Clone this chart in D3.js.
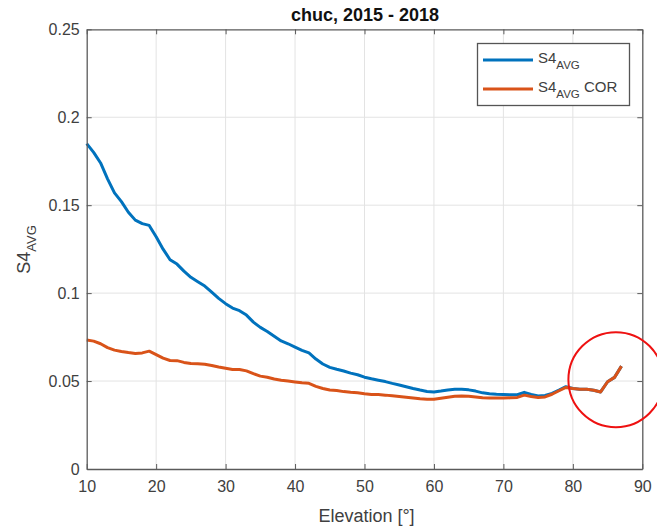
<!DOCTYPE html>
<html><head><meta charset="utf-8">
<script src="https://cdn.jsdelivr.net/npm/d3@7"></script>
<style>body{margin:0;background:#fff;} svg{display:block;font-family:"Liberation Sans",Arial,sans-serif;}</style>
</head><body>
<script>
const elevation = d3.range(10, 88);
const s4avg = [0.185,0.180,0.174,0.165,0.157,0.152,0.146,0.1415,0.1395,0.1385,
0.132,0.125,0.119,0.1165,0.1125,0.109,0.1065,0.104,0.1005,0.097,
0.094,0.0915,0.0900,0.0875,0.0835,0.0805,0.0782,0.0755,0.0728,0.0712,
0.0693,0.0675,0.0660,0.0625,0.0597,0.0578,0.0567,0.0557,0.0545,0.0536,
0.0522,0.0513,0.0505,0.0497,0.0487,0.0478,0.0468,0.0458,0.0449,0.0441,
0.0438,0.0443,0.0449,0.0453,0.0454,0.0450,0.0443,0.0433,0.0428,0.0425,
0.0424,0.0422,0.0422,0.0436,0.0424,0.0415,0.0418,0.0430,0.0448,0.0468,
0.0458,0.0454,0.0453,0.0448,0.0438,0.0496,0.0521,0.0585];
const s4avgCor = [0.0733,0.0727,0.0712,0.0690,0.0676,0.0668,0.0662,0.0657,0.0660,0.0670,
0.0650,0.0630,0.0617,0.0616,0.0606,0.0600,0.0598,0.0595,0.0588,0.0580,
0.0573,0.0566,0.0566,0.0558,0.0542,0.0528,0.0522,0.0512,0.0505,0.0500,
0.0495,0.0490,0.0487,0.0470,0.0458,0.0449,0.0446,0.0440,0.0436,0.0433,
0.0428,0.0424,0.0423,0.0420,0.0416,0.0412,0.0408,0.0404,0.0400,0.0397,
0.0396,0.0402,0.0408,0.0413,0.0415,0.0413,0.0410,0.0405,0.0403,0.0403,
0.0403,0.0405,0.0407,0.0420,0.0412,0.0407,0.0410,0.0425,0.0445,0.0464,
0.0458,0.0454,0.0453,0.0448,0.0438,0.0496,0.0521,0.0585];
const xTicks = [10,20,30,40,50,60,70,80,90];
const yTicks = [0,0.05,0.1,0.15,0.2,0.25];
const yTickLabels = ["0","0.05","0.1","0.15","0.2","0.25"];
const titleText = "chuc, 2015 - 2018";
const xLabel = "Elevation [°]";
const highlight = {elev: 86.2, val: 0.0508};

const W = 657, H = 526;
const m = {left: 86.7, right: W - 642.3, top: 29.3, bottom: H - 469};
const svg = d3.select("body").append("svg").attr("width", W).attr("height", H);
const x = d3.scaleLinear().domain([10, 90]).range([m.left, W - m.right]);
const y = d3.scaleLinear().domain([0, 0.25]).range([H - m.bottom, m.top]);
const axisCol = "#5a5a5a", textCol = "#404040";

// grid
const g = svg.append("g");
g.selectAll(".gx").data(xTicks.slice(1, -1)).enter().append("line")
  .attr("x1", d => x(d)).attr("x2", d => x(d)).attr("y1", y(0)).attr("y2", y(0.25))
  .attr("stroke", "#e3e3e3").attr("stroke-width", 1);
g.selectAll(".gy").data(yTicks.slice(1, -1)).enter().append("line")
  .attr("y1", d => y(d)).attr("y2", d => y(d)).attr("x1", x(10)).attr("x2", x(90))
  .attr("stroke", "#e3e3e3").attr("stroke-width", 1);

// lines
const line = d3.line().x((d, i) => x(elevation[i])).y(d => y(d));
svg.append("path").datum(s4avg).attr("d", line).attr("fill", "none")
  .attr("stroke", "#0072BD").attr("stroke-width", 3).attr("stroke-linejoin", "round");
svg.append("path").datum(s4avgCor).attr("d", line).attr("fill", "none")
  .attr("stroke", "#D95319").attr("stroke-width", 3).attr("stroke-linejoin", "round");

// axes
function styleAxis(sel) {
  sel.select(".domain").attr("stroke", axisCol).attr("stroke-width", 1.3);
  sel.selectAll(".tick line").attr("stroke", axisCol);
  sel.selectAll(".tick text").attr("fill", textCol).attr("font-size", "16px")
    .attr("font-family", "Liberation Sans, Arial, sans-serif");
}
const xa = svg.append("g").attr("transform", `translate(0,${y(0)})`)
  .call(d3.axisBottom(x).tickValues(xTicks).tickSizeInner(-5).tickSizeOuter(0).tickPadding(12));
styleAxis(xa);
const xt = svg.append("g").attr("transform", `translate(0,${y(0.25)})`)
  .call(d3.axisTop(x).tickValues(xTicks).tickSizeInner(-5).tickSizeOuter(0).tickFormat(""));
styleAxis(xt);
const ya = svg.append("g").attr("transform", `translate(${x(10)},0)`)
  .call(d3.axisLeft(y).tickValues(yTicks).tickSizeInner(-5).tickSizeOuter(0).tickPadding(7)
    .tickFormat((d, i) => yTickLabels[i]));
styleAxis(ya);
const yr = svg.append("g").attr("transform", `translate(${x(90)},0)`)
  .call(d3.axisRight(y).tickValues(yTicks).tickSizeInner(-5).tickSizeOuter(0).tickFormat(""));
styleAxis(yr);

// title
svg.append("text").attr("x", 365).attr("y", 21).attr("text-anchor", "middle")
  .attr("font-weight", "bold").attr("font-size", "18px").attr("fill", "#111").text(titleText);
// x label
svg.append("text").attr("x", 366.5).attr("y", 522).attr("text-anchor", "middle")
  .attr("font-size", "18px").attr("fill", textCol).text(xLabel);
// y label
const yl = svg.append("text").attr("transform", "translate(30,249.5) rotate(-90)")
  .attr("text-anchor", "middle").attr("font-size", "18px").attr("fill", textCol);
yl.append("tspan").text("S4");
yl.append("tspan").attr("font-size", "13px").attr("dy", 6).text("AVG");

// legend
const lg = svg.append("g");
lg.append("rect").attr("x", 477.5).attr("y", 43.5).attr("width", 152).attr("height", 62)
  .attr("fill", "#fff").attr("stroke", "#555").attr("stroke-width", 1.3);
const legendItems = [{c: "#0072BD", t: ""}, {c: "#D95319", t: " COR"}];
legendItems.forEach((it, i) => {
  const yy = 60 + i * 29;
  lg.append("line").attr("x1", 483).attr("x2", 533).attr("y1", yy).attr("y2", yy)
    .attr("stroke", it.c).attr("stroke-width", 3);
  const t = lg.append("text").attr("x", 538).attr("y", yy + 3).attr("font-size", "15px").attr("fill", textCol);
  t.append("tspan").text("S4");
  t.append("tspan").attr("font-size", "11.5px").attr("dy", 5.5).text("AVG");
  if (it.t) t.append("tspan").attr("dy", -5.5).text(it.t);
});

// highlight circle
svg.append("circle").attr("cx", x(highlight.elev)).attr("cy", y(highlight.val)).attr("r", 47.5)
  .attr("fill", "none").attr("stroke", "#ee1111").attr("stroke-width", 2);
</script>
</body></html>
